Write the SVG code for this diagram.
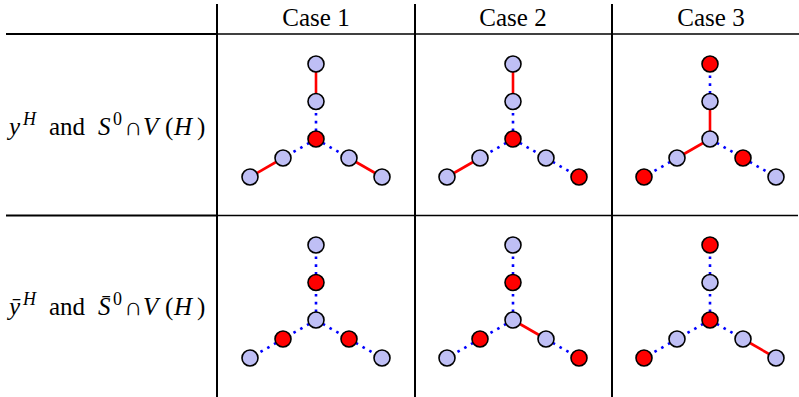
<svg xmlns="http://www.w3.org/2000/svg" width="799" height="397" viewBox="0 0 799 397">
<style>
  .grid-thick { stroke: #000; stroke-width: 2.2; fill: none; }
  .grid-thin { stroke: #000; stroke-width: 1.3; fill: none; }
  .grid-v { stroke: #000; stroke-width: 2; fill: none; }
  .hdr { font-family: 'Liberation Serif', 'Times New Roman', 'DejaVu Serif', serif; font-size: 25px; fill: #000; text-anchor: middle; }
  .lbl { font-family: 'Liberation Serif', 'Times New Roman', 'DejaVu Serif', serif; font-size: 25px; fill: #000; }
  .it { font-style: italic; }
  .sup { font-size: 18px; }
  .red { stroke: #ff0000; stroke-width: 2.6; fill: none; }
  .dot { stroke: #0000ff; stroke-width: 2.6; fill: none; stroke-dasharray: 2.6 5.2; }
  .n { stroke: #000; stroke-width: 1.6; fill: #bfbff5; }
  .r { stroke: #000; stroke-width: 1.6; fill: #ff0000; }
</style>

<g id="table">
  <line class="grid-v" x1="217" y1="4" x2="217" y2="397"/>
  <line class="grid-v" x1="415" y1="4" x2="415" y2="397"/>
  <line class="grid-v" x1="612" y1="4" x2="612" y2="397"/>
  <line class="grid-thick" x1="6" y1="34" x2="217" y2="34"/>
  <line class="grid-thin" x1="217" y1="34" x2="799" y2="34"/>
  <line class="grid-thick" x1="6" y1="215.5" x2="217" y2="215.5"/>
  <line class="grid-thin" x1="217" y1="215.5" x2="798" y2="215.5"/>
</g>

<g id="headers">
  <text class="hdr" x="316" y="26">Case 1</text>
  <text class="hdr" x="513" y="26">Case 2</text>
  <text class="hdr" x="711" y="26">Case 3</text>
</g>

<g id="row-labels">
  <g id="label-row1">
    <text class="lbl it" x="9" y="135">y</text>
    <text class="lbl it sup" x="23" y="125">H</text>
    <text class="lbl" x="49" y="135">and</text>
    <text class="lbl it" x="98" y="135">S</text>
    <text class="lbl sup" x="113" y="125">0</text>
    <text class="lbl" x="124" y="135">∩</text>
    <text class="lbl it" x="143" y="135">V</text>
    <text class="lbl" x="165" y="135">(</text>
    <text class="lbl it" x="174" y="135">H</text>
    <text class="lbl" x="197" y="135">)</text>
  </g>
  <g id="label-row2">
    <text class="lbl it" x="9" y="315">ȳ</text>
    <text class="lbl it sup" x="23" y="305">H</text>
    <text class="lbl" x="49" y="315">and</text>
    <text class="lbl it" x="98" y="315">S̄</text>
    <text class="lbl sup" x="113" y="305">0</text>
    <text class="lbl" x="124" y="315">∩</text>
    <text class="lbl it" x="143" y="315">V</text>
    <text class="lbl" x="165" y="315">(</text>
    <text class="lbl it" x="174" y="315">H</text>
    <text class="lbl" x="197" y="315">)</text>
  </g>
</g>

<g id="connectors">
  <line class="red" x1="316" y1="101.5" x2="316" y2="64"/>
  <line class="dot" x1="316" y1="139" x2="316" y2="101.5"/>
  <line class="dot" x1="316" y1="139" x2="283" y2="158"/>
  <line class="red" x1="283" y1="158" x2="250" y2="177"/>
  <line class="dot" x1="316" y1="139" x2="349" y2="158"/>
  <line class="red" x1="349" y1="158" x2="382" y2="177"/>
  <line class="red" x1="513" y1="101.5" x2="513" y2="64"/>
  <line class="dot" x1="513" y1="139" x2="513" y2="101.5"/>
  <line class="dot" x1="513" y1="139" x2="480" y2="158"/>
  <line class="red" x1="480" y1="158" x2="447" y2="177"/>
  <line class="dot" x1="513" y1="139" x2="546" y2="158"/>
  <line class="dot" x1="546" y1="158" x2="579" y2="177"/>
  <line class="dot" x1="710" y1="101.5" x2="710" y2="64"/>
  <line class="red" x1="710" y1="139" x2="710" y2="101.5"/>
  <line class="red" x1="710" y1="139" x2="677" y2="158"/>
  <line class="dot" x1="677" y1="158" x2="644" y2="177"/>
  <line class="dot" x1="710" y1="139" x2="743" y2="158"/>
  <line class="dot" x1="743" y1="158" x2="776" y2="177"/>
  <line class="dot" x1="316" y1="282.5" x2="316" y2="245"/>
  <line class="dot" x1="316" y1="320" x2="316" y2="282.5"/>
  <line class="dot" x1="316" y1="320" x2="283" y2="339"/>
  <line class="dot" x1="283" y1="339" x2="250" y2="358"/>
  <line class="dot" x1="316" y1="320" x2="349" y2="339"/>
  <line class="dot" x1="349" y1="339" x2="382" y2="358"/>
  <line class="dot" x1="513" y1="282.5" x2="513" y2="245"/>
  <line class="dot" x1="513" y1="320" x2="513" y2="282.5"/>
  <line class="dot" x1="513" y1="320" x2="480" y2="339"/>
  <line class="dot" x1="480" y1="339" x2="447" y2="358"/>
  <line class="red" x1="513" y1="320" x2="546" y2="339"/>
  <line class="dot" x1="546" y1="339" x2="579" y2="358"/>
  <line class="dot" x1="710" y1="282.5" x2="710" y2="245"/>
  <line class="dot" x1="710" y1="320" x2="710" y2="282.5"/>
  <line class="dot" x1="710" y1="320" x2="677" y2="339"/>
  <line class="dot" x1="677" y1="339" x2="644" y2="358"/>
  <line class="dot" x1="710" y1="320" x2="743" y2="339"/>
  <line class="red" x1="743" y1="339" x2="776" y2="358"/>
</g>

<g id="nodes">
  <g id="r1c1-top"><circle class="n" cx="316" cy="64" r="8"/></g>
  <g id="r1c1-mid"><circle class="n" cx="316" cy="101.5" r="8"/></g>
  <g id="r1c1-center"><circle class="r" cx="316" cy="139" r="8"/></g>
  <g id="r1c1-left1"><circle class="n" cx="283" cy="158" r="8"/></g>
  <g id="r1c1-left2"><circle class="n" cx="250" cy="177" r="8"/></g>
  <g id="r1c1-right1"><circle class="n" cx="349" cy="158" r="8"/></g>
  <g id="r1c1-right2"><circle class="n" cx="382" cy="177" r="8"/></g>
  <g id="r1c2-top"><circle class="n" cx="513" cy="64" r="8"/></g>
  <g id="r1c2-mid"><circle class="n" cx="513" cy="101.5" r="8"/></g>
  <g id="r1c2-center"><circle class="r" cx="513" cy="139" r="8"/></g>
  <g id="r1c2-left1"><circle class="n" cx="480" cy="158" r="8"/></g>
  <g id="r1c2-left2"><circle class="n" cx="447" cy="177" r="8"/></g>
  <g id="r1c2-right1"><circle class="n" cx="546" cy="158" r="8"/></g>
  <g id="r1c2-right2"><circle class="r" cx="579" cy="177" r="8"/></g>
  <g id="r1c3-top"><circle class="r" cx="710" cy="64" r="8"/></g>
  <g id="r1c3-mid"><circle class="n" cx="710" cy="101.5" r="8"/></g>
  <g id="r1c3-center"><circle class="n" cx="710" cy="139" r="8"/></g>
  <g id="r1c3-left1"><circle class="n" cx="677" cy="158" r="8"/></g>
  <g id="r1c3-left2"><circle class="r" cx="644" cy="177" r="8"/></g>
  <g id="r1c3-right1"><circle class="r" cx="743" cy="158" r="8"/></g>
  <g id="r1c3-right2"><circle class="n" cx="776" cy="177" r="8"/></g>
  <g id="r2c1-top"><circle class="n" cx="316" cy="245" r="8"/></g>
  <g id="r2c1-mid"><circle class="r" cx="316" cy="282.5" r="8"/></g>
  <g id="r2c1-center"><circle class="n" cx="316" cy="320" r="8"/></g>
  <g id="r2c1-left1"><circle class="r" cx="283" cy="339" r="8"/></g>
  <g id="r2c1-left2"><circle class="n" cx="250" cy="358" r="8"/></g>
  <g id="r2c1-right1"><circle class="r" cx="349" cy="339" r="8"/></g>
  <g id="r2c1-right2"><circle class="n" cx="382" cy="358" r="8"/></g>
  <g id="r2c2-top"><circle class="n" cx="513" cy="245" r="8"/></g>
  <g id="r2c2-mid"><circle class="r" cx="513" cy="282.5" r="8"/></g>
  <g id="r2c2-center"><circle class="n" cx="513" cy="320" r="8"/></g>
  <g id="r2c2-left1"><circle class="r" cx="480" cy="339" r="8"/></g>
  <g id="r2c2-left2"><circle class="n" cx="447" cy="358" r="8"/></g>
  <g id="r2c2-right1"><circle class="n" cx="546" cy="339" r="8"/></g>
  <g id="r2c2-right2"><circle class="r" cx="579" cy="358" r="8"/></g>
  <g id="r2c3-top"><circle class="r" cx="710" cy="245" r="8"/></g>
  <g id="r2c3-mid"><circle class="n" cx="710" cy="282.5" r="8"/></g>
  <g id="r2c3-center"><circle class="r" cx="710" cy="320" r="8"/></g>
  <g id="r2c3-left1"><circle class="n" cx="677" cy="339" r="8"/></g>
  <g id="r2c3-left2"><circle class="r" cx="644" cy="358" r="8"/></g>
  <g id="r2c3-right1"><circle class="n" cx="743" cy="339" r="8"/></g>
  <g id="r2c3-right2"><circle class="n" cx="776" cy="358" r="8"/></g>
</g>
</svg>
